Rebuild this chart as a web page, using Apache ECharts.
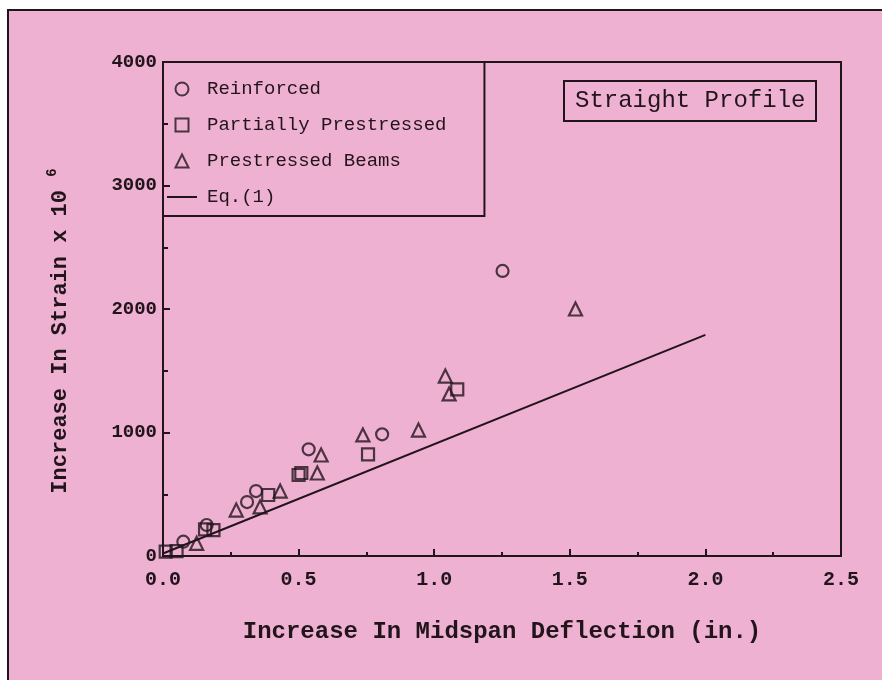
<!DOCTYPE html>
<html>
<head>
<meta charset="utf-8">
<style>
  html, body { margin: 0; padding: 0; background: #ffffff; }
  #chart { width: 882px; height: 680px; }
</style>
<script src="https://cdn.jsdelivr.net/npm/echarts@6/dist/echarts.min.js"></script>
</head>
<body>
<div id="chart"></div>
<script>
// Increase in midspan deflection (in.) vs increase in strain (x 10^6), straight tendon profile
const reinforced = [[0.075, 116], [0.161, 251], [0.31, 437], [0.343, 526], [0.537, 864], [0.808, 985], [1.252, 2308]];
const partiallyPrestressed = [[0.01, 35], [0.05, 40], [0.155, 216], [0.186, 210], [0.388, 494], [0.50, 656], [0.51, 672], [0.756, 823], [1.085, 1350]];
const prestressedBeams = [[0.124, 103], [0.27, 372], [0.358, 397], [0.432, 526], [0.569, 672], [0.583, 818], [0.737, 980], [0.942, 1020], [1.041, 1457], [1.055, 1312], [1.521, 2000]];
const equationOne = [[0, 20], [2.0, 1790]];

const seriesNames = ['Reinforced', 'Partially Prestressed', 'Prestressed Beams', 'Eq.(1)'];
const xTicks = { min: 0, max: 2.5, step: 0.5 };
const yTicks = { min: 0, max: 4000, step: 1000 };

const ink = '#22141b';
const paper = '#efb1d2';
const mono = '"Liberation Mono", "Courier New", monospace';

const hollow = { color: 'transparent', borderColor: ink, borderWidth: 2.2 };

// legend keys: outlined shapes kept square, plus a short rule for the equation
const legendIcons = {
  circle: 'path://M10,0A10,10,0,1,1,9.99,0Z',
  square: 'path://M0,0H10V10H0Z',
  triangle: 'path://M5,0L10,10H0Z',
  rule: 'path://M0,0H30V2H0Z'
};

const chart = echarts.init(document.getElementById('chart'), null, { renderer: 'canvas' });

chart.setOption({
  animation: false,
  backgroundColor: 'transparent',
  graphic: [{
    type: 'rect',
    z: -10,
    shape: { x: 8, y: 10, width: 890, height: 700 },
    style: { fill: paper, stroke: ink, lineWidth: 2 }
  }],
  title: {
    text: 'Straight Profile',
    left: 564,
    top: 81,
    padding: [8, 11, 8, 11],
    borderColor: ink,
    borderWidth: 2,
    textStyle: { fontFamily: mono, fontSize: 24, fontWeight: 'normal', color: ink }
  },
  legend: {
    orient: 'vertical',
    left: 163,
    top: 62,
    padding: [16, 38, 8, 4],
    itemGap: 14,
    itemWidth: 30,
    itemHeight: 13,
    borderColor: ink,
    borderWidth: 2,
    data: [
      { name: seriesNames[0], icon: legendIcons.circle },
      { name: seriesNames[1], icon: legendIcons.square },
      { name: seriesNames[2], icon: legendIcons.triangle },
      { name: seriesNames[3], icon: legendIcons.rule, itemStyle: { color: ink, borderWidth: 0 } }
    ],
    textStyle: { fontFamily: mono, fontSize: 19, color: ink, lineHeight: 22, padding: [0, 0, 0, 5] }
  },
  grid: {
    left: 163, right: 41, top: 62, bottom: 124,
    show: true, borderColor: ink, borderWidth: 2, backgroundColor: 'transparent'
  },
  xAxis: {
    type: 'value',
    min: xTicks.min, max: xTicks.max, interval: xTicks.step,
    name: 'Increase In Midspan Deflection (in.)',
    nameLocation: 'middle',
    nameGap: 64,
    nameTextStyle: { fontFamily: mono, fontSize: 24, fontWeight: 'bold', color: ink },
    axisLine: { lineStyle: { color: ink, width: 2 } },
    axisTick: { inside: true, length: 7, lineStyle: { color: ink, width: 2 } },
    minorTick: { show: true, splitNumber: 2, length: 4, lineStyle: { color: ink, width: 2 } },
    splitLine: { show: false },
    axisLabel: {
      margin: 14,
      formatter: v => v.toFixed(1),
      fontFamily: mono, fontSize: 20, fontWeight: 'bold', color: ink
    }
  },
  yAxis: {
    type: 'value',
    min: yTicks.min, max: yTicks.max, interval: yTicks.step,
    name: '{a|Increase In Strain x 10 }{s|6}',
    nameLocation: 'middle',
    nameGap: 92,
    nameRotate: 90,
    nameTextStyle: {
      padding: [0, 44, 0, 0],
      rich: {
        a: { fontFamily: mono, fontSize: 22, fontWeight: 'bold', color: ink, lineHeight: 26, verticalAlign: 'bottom' },
        s: { fontFamily: mono, fontSize: 14, fontWeight: 'bold', color: ink, lineHeight: 26, verticalAlign: 'top' }
      }
    },
    axisLine: { show: true, lineStyle: { color: ink, width: 2 } },
    axisTick: { show: true, inside: true, length: 7, lineStyle: { color: ink, width: 2 } },
    minorTick: { show: true, splitNumber: 2, length: 5, lineStyle: { color: ink, width: 2 } },
    splitLine: { show: false },
    axisLabel: {
      margin: 6,
      padding: [7, 0, 0, 0],
      formatter: v => String(v),
      fontFamily: mono, fontSize: 19, fontWeight: 'bold', color: ink
    }
  },
  series: [
    {
      name: seriesNames[0], type: 'scatter', data: reinforced,
      symbol: 'circle', symbolSize: 12, itemStyle: hollow
    },
    {
      name: seriesNames[1], type: 'scatter', data: partiallyPrestressed,
      symbol: 'rect', symbolSize: 12, itemStyle: hollow
    },
    {
      name: seriesNames[2], type: 'scatter', data: prestressedBeams,
      symbol: 'triangle', symbolSize: 13, itemStyle: hollow
    },
    {
      name: seriesNames[3], type: 'line', data: equationOne,
      symbol: 'none', showSymbol: false,
      lineStyle: { color: ink, width: 2 }, itemStyle: { color: ink }
    }
  ]
});
</script>
</body>
</html>
